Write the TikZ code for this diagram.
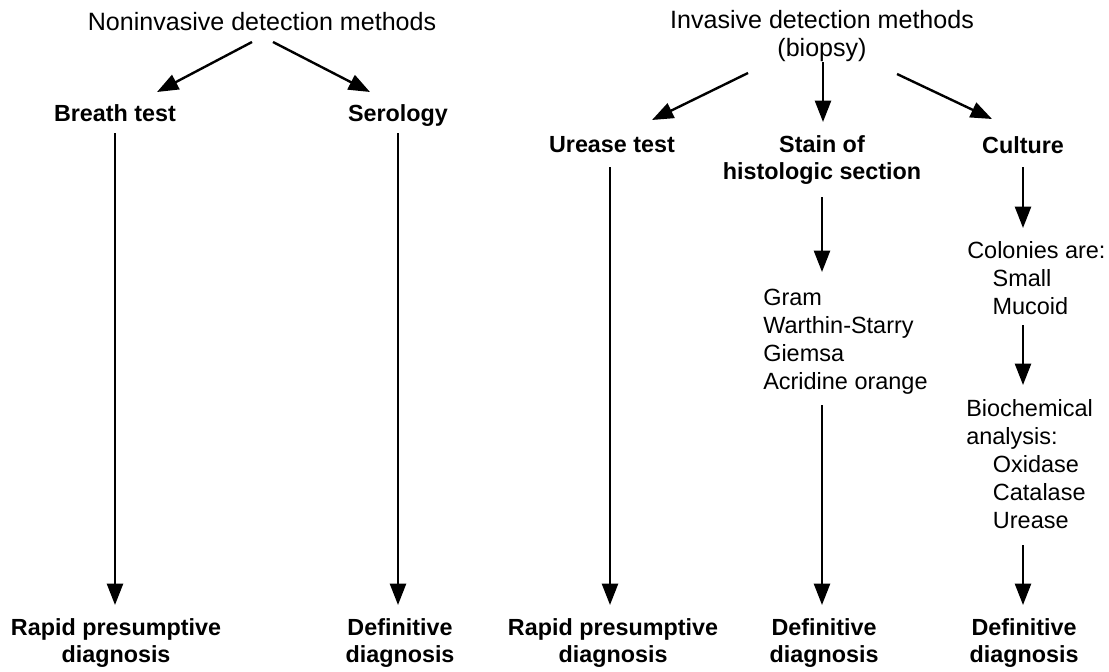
\documentclass[tikz,border=0pt]{standalone}
\usepackage{fontspec}
\setmainfont{Liberation Sans}
\usetikzlibrary{arrows.meta,positioning,calc}

\begin{document}
\begin{tikzpicture}[x=0.75pt,y=-0.75pt,
  hd/.style={font=\fontsize{18.8}{21}\selectfont,align=center,inner sep=0pt},
  tst/.style={font=\fontsize{17.5}{20.5}\selectfont\bfseries,align=center,inner sep=0pt},
  item/.style={font=\fontsize{17.6}{21}\selectfont,align=left,inner sep=0pt,anchor=west},
  arr/.style={line width=1.8pt,-{Triangle[length=16pt,width=12pt]}}]
\useasboundingbox (0,0) rectangle (1109,671);

% headings
\node[hd] (noninv) at (262,22) {Noninvasive detection methods};
\node[hd] (inv) at (822,36) {Invasive detection methods\\(biopsy)};

% tests
\node[tst] (breath) at (115,113) {Breath test};
\node[tst] (serology) at (398,116) {Serology};
\node[tst] (urease) at (612,145) {Urease test};
\node[tst] (stain) at (822,160) {Stain of\\histologic section};
\node[tst] (culture) at (1023,145) {Culture};

% intermediate steps
\node[item] (stainlist) at (763,342) {Gram\\Warthin-Starry\\Giemsa\\Acridine orange};
\node[item] (colonies) at (967,278) {Colonies are:\\\hspace{19pt}Small\\\hspace{19pt}Mucoid};
\node[item] (biochem) at (966,464) {Biochemical\\analysis:\\\hspace{20pt}Oxidase\\\hspace{20pt}Catalase\\\hspace{20pt}Urease};

% outcomes
\foreach \x/\nm/\txt in {116/rapidA/Rapid presumptive,400/defA/Definitive,613/rapidB/Rapid presumptive,824/defB/Definitive,1024/defC/Definitive}{
  \node[tst] (\nm) at (\x,643) {\txt\\diagnosis};
}

\draw[arr] ($(noninv)+(-10,20)$) -- ($(breath)+(42,-21)$);
\draw[arr] ($(noninv)+(11,20)$) -- ($(serology)+(-28,-24)$);
\draw[arr] ($(breath)+(0,20)$) -- ($(breath |- rapidA)+(0,-38)$);
\draw[arr] ($(serology)+(0,17)$) -- ($(serology |- defA)+(0,-38)$);

\draw[arr] ($(inv)+(-74,37)$) -- ($(urease)+(40,-25)$);
\draw[arr] ($(inv)+(1,26)$) -- ($(stain)+(1,-38)$);
\draw[arr] ($(inv)+(75,38)$) -- ($(culture)+(-31,-26)$);
\draw[arr] ($(urease)+(-2,22)$) -- ($(urease |- rapidB)+(-2,-38)$);
\draw[arr] ($(stain)+(0,37)$) -- ($(stain |- stainlist)+(0,-70)$);
\draw[arr] ($(stain |- stainlist)+(0,63)$) -- ($(stain |- defB)+(0,-38)$);
\draw[arr] ($(culture)+(0,22)$) -- ($(culture |- colonies)+(0,-50)$);
\draw[arr] ($(culture |- colonies)+(0,47)$) -- ($(culture |- biochem)+(0,-79)$);
\draw[arr] ($(culture |- biochem)+(0,81)$) -- ($(culture |- defC)+(0,-38)$);
\end{tikzpicture}
\end{document}
